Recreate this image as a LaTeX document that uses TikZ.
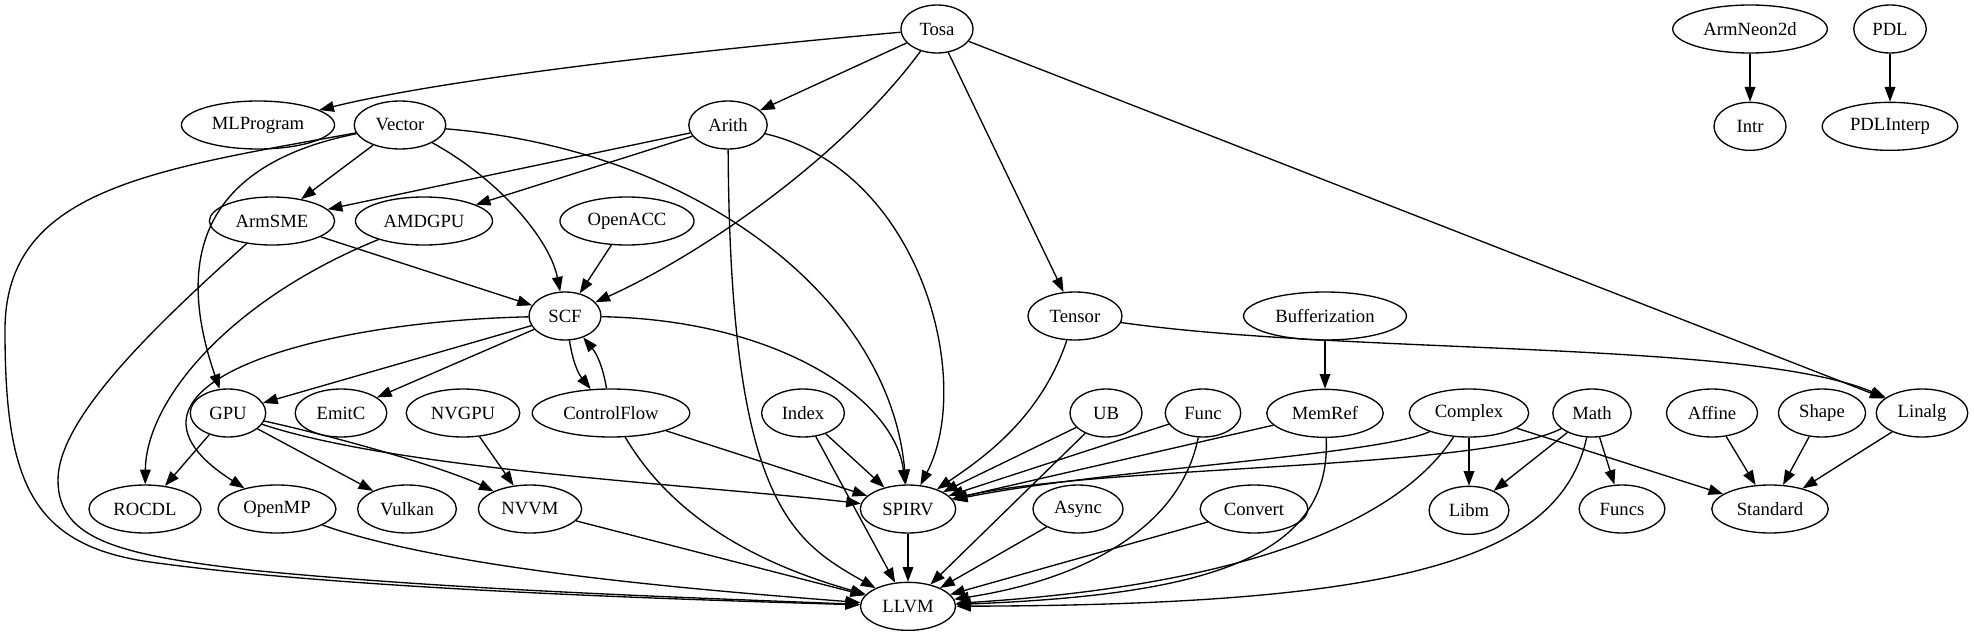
\documentclass[tikz,border=0pt]{standalone}
\usepackage{fontspec}
\setmainfont{Liberation Serif}
\usetikzlibrary{arrows.meta, shapes.geometric, positioning}

\begin{document}
\begin{tikzpicture}[
  x=0.75pt, y=0.75pt,
  node distance=36pt,
  dialect/.style={ellipse, draw=black, line width=1pt, minimum width=54pt,
                  minimum height=36pt, inner xsep=6pt, inner ysep=2pt,
                  font=\fontsize{14}{16}\selectfont},
  arr/.style={-{Triangle[length=11pt, width=8pt]}, line width=1pt}
]
\useasboundingbox (0,0) rectangle (1974,-635);

% rank 0
\node[dialect] (tosa)    at (937,-29)  {Tosa};
\node[dialect] (armneon) at (1750,-29) {ArmNeon2d};
\node[dialect] (pdl)     at (1890,-29) {PDL};

% rank 1
\node[dialect] (mlprog)  at (258,-125) {MLProgram};
\node[dialect] (vector)  at (400,-125) {Vector};
\node[dialect] (arith)   at (728,-125) {Arith};
\node[dialect, below=of armneon] (intr)      {Intr};
\node[dialect, below=of pdl]     (pdlinterp) {PDLInterp};

% rank 2
\node[dialect] (armsme)  at (272,-221) {ArmSME};
\node[dialect] (amdgpu)  at (424,-221) {AMDGPU};
\node[dialect] (openacc) at (627,-221) {OpenACC};

% rank 3
\node[dialect] (scf)     at (565,-316)  {SCF};
\node[dialect] (tensor)  at (1075,-316) {Tensor};
\node[dialect] (buffer)  at (1325,-316) {Bufferization};

% rank 4
\node[dialect] (gpu)     at (228,-413)  {GPU};
\node[dialect] (emitc)   at (341,-413)  {EmitC};
\node[dialect] (nvgpu)   at (463,-413)  {NVGPU};
\node[dialect] (cf)      at (611,-413)  {ControlFlow};
\node[dialect] (index)   at (803,-413)  {Index};
\node[dialect] (ub)      at (1106,-413) {UB};
\node[dialect] (func)    at (1203,-413) {Func};
\node[dialect, below=of buffer] (memref) {MemRef};
\node[dialect] (complex) at (1469,-413) {Complex};
\node[dialect] (math)    at (1592,-413) {Math};
\node[dialect] (affine)  at (1712,-413) {Affine};
\node[dialect] (shape)   at (1822,-413) {Shape};
\node[dialect] (linalg)  at (1922,-413) {Linalg};

% rank 5
\node[dialect] (rocdl)   at (145,-509)  {ROCDL};
\node[dialect] (openmp)  at (277,-509)  {OpenMP};
\node[dialect] (vulkan)  at (407,-509)  {Vulkan};
\node[dialect] (nvvm)    at (530,-509)  {NVVM};
\node[dialect] (spirv)   at (908,-509)  {SPIRV};
\node[dialect] (async)   at (1078,-509) {Async};
\node[dialect] (convert) at (1254,-509) {Convert};
\node[dialect, below=of complex] (libm) {Libm};
\node[dialect] (funcs)   at (1622,-509) {Funcs};
\node[dialect] (standard) at (1770,-509) {Standard};

% rank 6
\node[dialect, below=of spirv] (llvm) {LLVM};

% Tosa
\draw[arr] (tosa) .. controls (700,-50) and (450,-78) .. (mlprog);
\draw[arr] (tosa) -- (arith);
\draw[arr] (tosa) .. controls (840,-160) and (700,-255) .. (scf);
\draw[arr] (tosa) -- (tensor);
\draw[arr] (tosa) -- (linalg);
\draw[arr] (armneon) -- (intr);
\draw[arr] (pdl) -- (pdlinterp);

% Vector, Arith
\draw[arr] (vector) -- (armsme);
\draw[arr] (vector) .. controls (200,-165) and (175,-260) .. (gpu);
\draw[arr] (vector) .. controls (150,-170) and (5,-190) .. (5,-330)
  .. controls (5,-480) and (30,-545) .. (150,-562)
  .. controls (350,-590) and (700,-600) .. (llvm);
\draw[arr] (vector) .. controls (500,-180) and (550,-240) .. (scf);
\draw[arr] (vector) .. controls (700,-150) and (890,-300) .. (spirv);
\draw[arr] (arith) -- (armsme);
\draw[arr] (arith) -- (amdgpu);
\draw[arr] (arith) .. controls (730,-500) and (790,-540) .. (llvm);
\draw[arr] (arith) .. controls (920,-170) and (975,-380) .. (spirv);

% ArmSME, AMDGPU, OpenACC
\draw[arr] (armsme) -- (scf);
\draw[arr] (armsme) .. controls (150,-330) and (58,-420) .. (58,-480)
  .. controls (58,-540) and (120,-555) .. (250,-570)
  .. controls (450,-590) and (700,-598) .. (llvm);
\draw[arr] (amdgpu) .. controls (230,-300) and (146,-400) .. (rocdl);
\draw[arr] (openacc) -- (scf);

% SCF, Tensor
\draw[arr] (scf) -- (gpu);
\draw[arr] (scf) -- (emitc);
\draw[arr] (scf) .. controls (300,-322) and (90,-390) .. (openmp);
\draw[arr] (scf) to[bend right=15] (cf);
\draw[arr] (cf) to[bend right=15] (scf);
\draw[arr] (scf) .. controls (780,-320) and (895,-400) .. (spirv);
\draw[arr] (tensor) .. controls (1040,-420) and (980,-460) .. (spirv);
\draw[arr] (tensor) .. controls (1350,-355) and (1750,-340) .. (linalg);
\draw[arr] (buffer) -- (memref);

% rank 4 sources
\draw[arr] (gpu) -- (rocdl);
\draw[arr] (gpu) -- (vulkan);
\draw[arr] (gpu) .. controls (350,-440) and (450,-470) .. (nvvm);
\draw[arr] (gpu) .. controls (400,-470) and (700,-485) .. (spirv);
\draw[arr] (nvgpu) -- (nvvm);
\draw[arr] (cf) -- (spirv);
\draw[arr] (cf) .. controls (680,-530) and (780,-570) .. (llvm);
\draw[arr] (index) -- (spirv);
\draw[arr] (index) -- (llvm);
\draw[arr] (ub) -- (spirv);
\draw[arr] (ub) -- (llvm);
\draw[arr] (func) -- (spirv);
\draw[arr] (func) .. controls (1180,-530) and (1080,-580) .. (llvm);
\draw[arr] (memref) -- (spirv);
\draw[arr] (memref) .. controls (1332,-560) and (1200,-595) .. (llvm);
\draw[arr] (complex) .. controls (1380,-455) and (1100,-470) .. (spirv);
\draw[arr] (complex) -- (libm);
\draw[arr] (complex) -- (standard);
\draw[arr] (complex) .. controls (1400,-520) and (1250,-585) .. (llvm);
\draw[arr] (math) .. controls (1480,-470) and (1100,-465) .. (spirv);
\draw[arr] (math) -- (libm);
\draw[arr] (math) -- (funcs);
\draw[arr] (math) .. controls (1560,-560) and (1400,-605) .. (llvm);
\draw[arr] (affine) -- (standard);
\draw[arr] (shape) -- (standard);
\draw[arr] (linalg) -- (standard);

% into LLVM
\draw[arr] (openmp) .. controls (450,-570) and (700,-590) .. (llvm);
\draw[arr] (nvvm) -- (llvm);
\draw[arr] (spirv) -- (llvm);
\draw[arr] (async) -- (llvm);
\draw[arr] (convert) -- (llvm);

\end{tikzpicture}
\end{document}
